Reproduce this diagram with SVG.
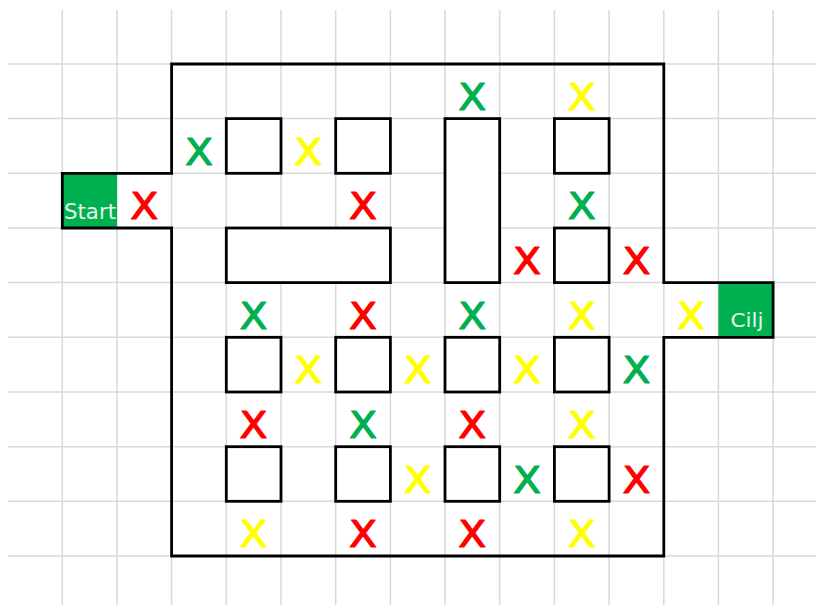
<svg xmlns="http://www.w3.org/2000/svg" width="816" height="605" viewBox="0 0 816 605">
<style>
.grid line{stroke:#d9d9d9;stroke-width:1.5}
.wall{fill:none;stroke:#000;stroke-width:2.8;stroke-linejoin:miter}
.box{fill:#fff;stroke:#000;stroke-width:2.8}
.goal{fill:#00b050}
.lbl{font-family:"DejaVu Sans",sans-serif;fill:#e6f5ea}
.x{font-family:"DejaVu Sans",sans-serif;font-size:37px;text-anchor:middle;stroke-width:1.2;stroke-linejoin:round}
.r{fill:#ff0000;stroke:#ff0000}
.g{fill:#00b050;stroke:#00b050}
.y{fill:#ffff00;stroke:#ffff00}
</style>
<rect width="816" height="605" fill="#fff"/>
<g class="grid">
<line x1="62.3" y1="10" x2="62.3" y2="605"/>
<line x1="117" y1="10" x2="117" y2="605"/>
<line x1="171.6" y1="10" x2="171.6" y2="605"/>
<line x1="226.3" y1="10" x2="226.3" y2="605"/>
<line x1="281" y1="10" x2="281" y2="605"/>
<line x1="335.7" y1="10" x2="335.7" y2="605"/>
<line x1="390.4" y1="10" x2="390.4" y2="605"/>
<line x1="445" y1="10" x2="445" y2="605"/>
<line x1="499.7" y1="10" x2="499.7" y2="605"/>
<line x1="554.4" y1="10" x2="554.4" y2="605"/>
<line x1="609.1" y1="10" x2="609.1" y2="605"/>
<line x1="663.8" y1="10" x2="663.8" y2="605"/>
<line x1="718.4" y1="10" x2="718.4" y2="605"/>
<line x1="773.1" y1="10" x2="773.1" y2="605"/>
<line x1="8" y1="64" x2="816" y2="64"/>
<line x1="8" y1="118.6" x2="816" y2="118.6"/>
<line x1="8" y1="173.3" x2="816" y2="173.3"/>
<line x1="8" y1="228" x2="816" y2="228"/>
<line x1="8" y1="282.6" x2="816" y2="282.6"/>
<line x1="8" y1="337.3" x2="816" y2="337.3"/>
<line x1="8" y1="392" x2="816" y2="392"/>
<line x1="8" y1="446.7" x2="816" y2="446.7"/>
<line x1="8" y1="501.3" x2="816" y2="501.3"/>
<line x1="8" y1="556" x2="816" y2="556"/>
</g>
<g id="start">
<rect class="goal" x="62.3" y="173.3" width="54.7" height="54.7"/>
<text class="lbl" x="64" y="218.5" font-size="21" textLength="52" lengthAdjust="spacingAndGlyphs">Start</text>
</g>
<g id="cilj">
<rect class="goal" x="718.4" y="282.6" width="54.7" height="54.7"/>
<text class="lbl" x="730.5" y="327" font-size="19" textLength="33" lengthAdjust="spacingAndGlyphs">Cilj</text>
</g>
<g id="outer-wall">
<path class="wall" d="M171.6,64 H663.8 V282.6 H773.1 V337.3 H663.8 V556 H171.6 V228 H62.3 V173.3 H171.6 Z"/>
</g>
<g id="obstacles">
<rect class="box" x="226.3" y="118.6" width="54.7" height="54.7"/>
<rect class="box" x="335.7" y="118.6" width="54.7" height="54.7"/>
<rect class="box" x="445" y="118.6" width="54.7" height="164"/>
<rect class="box" x="554.4" y="118.6" width="54.7" height="54.7"/>
<rect class="box" x="226.3" y="228" width="164.1" height="54.6"/>
<rect class="box" x="554.4" y="228" width="54.7" height="54.6"/>
<rect class="box" x="226.3" y="337.3" width="54.7" height="54.7"/>
<rect class="box" x="335.7" y="337.3" width="54.7" height="54.7"/>
<rect class="box" x="445" y="337.3" width="54.7" height="54.7"/>
<rect class="box" x="554.4" y="337.3" width="54.7" height="54.7"/>
<rect class="box" x="226.3" y="446.7" width="54.7" height="54.6"/>
<rect class="box" x="335.7" y="446.7" width="54.7" height="54.6"/>
<rect class="box" x="445" y="446.7" width="54.7" height="54.6"/>
<rect class="box" x="554.4" y="446.7" width="54.7" height="54.6"/>
</g>
<g id="marks">
<text class="x g" x="472.3" y="110" textLength="28" lengthAdjust="spacingAndGlyphs">X</text>
<text class="x y" x="581.7" y="110" textLength="28" lengthAdjust="spacingAndGlyphs">X</text>
<text class="x g" x="198.9" y="164.6" textLength="28" lengthAdjust="spacingAndGlyphs">X</text>
<text class="x y" x="308.3" y="164.6" textLength="28" lengthAdjust="spacingAndGlyphs">X</text>
<text class="x r" x="144.3" y="219.3" textLength="28" lengthAdjust="spacingAndGlyphs">X</text>
<text class="x r" x="363" y="219.3" textLength="28" lengthAdjust="spacingAndGlyphs">X</text>
<text class="x g" x="581.7" y="219.3" textLength="28" lengthAdjust="spacingAndGlyphs">X</text>
<text class="x r" x="527" y="274" textLength="28" lengthAdjust="spacingAndGlyphs">X</text>
<text class="x r" x="636.4" y="274" textLength="28" lengthAdjust="spacingAndGlyphs">X</text>
<text class="x g" x="253.6" y="328.6" textLength="28" lengthAdjust="spacingAndGlyphs">X</text>
<text class="x r" x="363" y="328.6" textLength="28" lengthAdjust="spacingAndGlyphs">X</text>
<text class="x g" x="472.3" y="328.6" textLength="28" lengthAdjust="spacingAndGlyphs">X</text>
<text class="x y" x="581.7" y="328.6" textLength="28" lengthAdjust="spacingAndGlyphs">X</text>
<text class="x y" x="691.1" y="328.6" textLength="28" lengthAdjust="spacingAndGlyphs">X</text>
<text class="x y" x="308.3" y="383.3" textLength="28" lengthAdjust="spacingAndGlyphs">X</text>
<text class="x y" x="417.7" y="383.3" textLength="28" lengthAdjust="spacingAndGlyphs">X</text>
<text class="x y" x="527" y="383.3" textLength="28" lengthAdjust="spacingAndGlyphs">X</text>
<text class="x g" x="636.4" y="383.3" textLength="28" lengthAdjust="spacingAndGlyphs">X</text>
<text class="x r" x="253.6" y="438" textLength="28" lengthAdjust="spacingAndGlyphs">X</text>
<text class="x g" x="363" y="438" textLength="28" lengthAdjust="spacingAndGlyphs">X</text>
<text class="x r" x="472.3" y="438" textLength="28" lengthAdjust="spacingAndGlyphs">X</text>
<text class="x y" x="581.7" y="438" textLength="28" lengthAdjust="spacingAndGlyphs">X</text>
<text class="x y" x="417.7" y="492.7" textLength="28" lengthAdjust="spacingAndGlyphs">X</text>
<text class="x g" x="527" y="492.7" textLength="28" lengthAdjust="spacingAndGlyphs">X</text>
<text class="x r" x="636.4" y="492.7" textLength="28" lengthAdjust="spacingAndGlyphs">X</text>
<text class="x y" x="253.6" y="547.3" textLength="28" lengthAdjust="spacingAndGlyphs">X</text>
<text class="x r" x="363" y="547.3" textLength="28" lengthAdjust="spacingAndGlyphs">X</text>
<text class="x r" x="472.3" y="547.3" textLength="28" lengthAdjust="spacingAndGlyphs">X</text>
<text class="x y" x="581.7" y="547.3" textLength="28" lengthAdjust="spacingAndGlyphs">X</text>
</g>
</svg>
